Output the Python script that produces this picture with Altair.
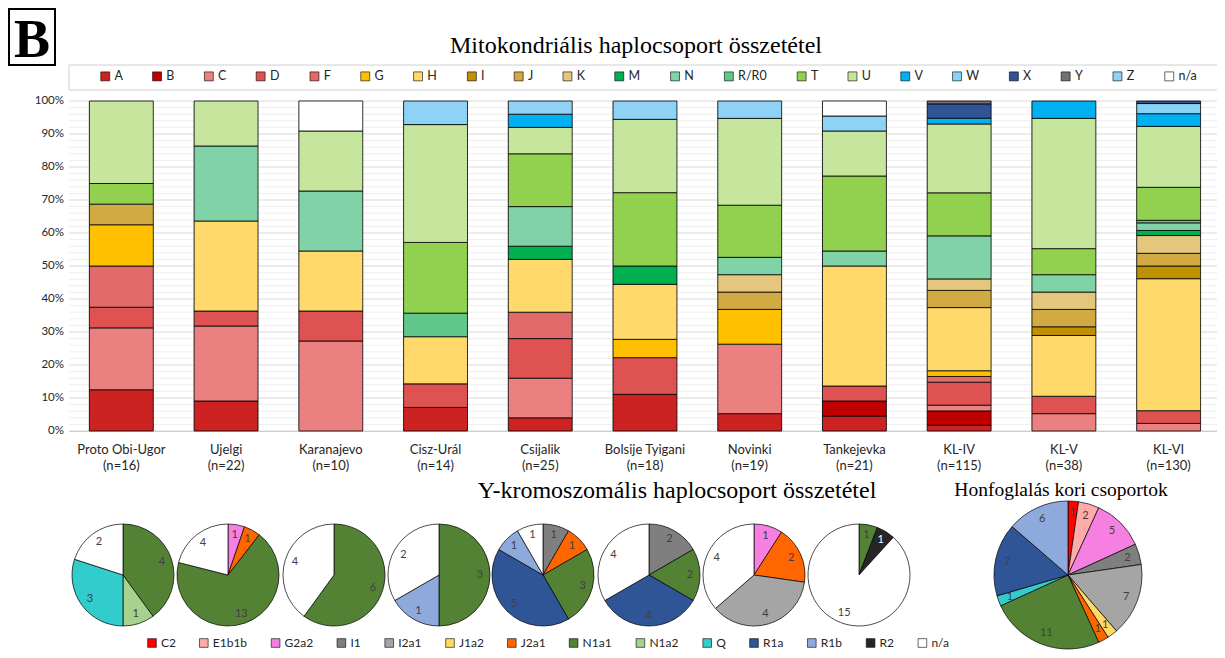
import altair as alt
import pandas as pd

# ---------------- text ----------------
panel_letter = "B"
title_mito = "Mitokondriális haplocsoport összetétel"
title_y = "Y-kromoszomális haplocsoport összetétel"
title_honf = "Honfoglalás kori csoportok"

# ---------------- mitochondrial data ----------------
mito_haplos = ["A", "B", "C", "D", "F", "G", "H", "I", "J", "K", "M", "N",
               "R/R0", "T", "U", "V", "W", "X", "Y", "Z", "n/a"]
mito_colors = ["#cc2222", "#c00000", "#ea8080", "#de5252", "#e26a6a", "#ffc000",
               "#ffd96b", "#bf9000", "#d2aa44", "#e4c77c", "#00b050", "#7fd3a6",
               "#62c78a", "#92d050", "#c6e59d", "#00b0f0", "#86d3f5", "#2f5597",
               "#767171", "#8ed3f6", "#ffffff"]

groups = ["Proto Obi-Ugor", "Ujelgi", "Karanajevo", "Cisz-Urál", "Csijalik",
          "Bolsije Tyigani", "Novinki", "Tankejevka", "KL-IV", "KL-V", "KL-VI"]
group_n = [16, 22, 10, 14, 25, 18, 19, 21, 115, 38, 130]

#                  A  B  C  D  F  G   H  I  J  K  M   N  R   T   U  V  W  X  Y  Z na
proto_obi_ugor  = [2, 0, 3, 1, 2, 2,  0, 0, 1, 0, 0,  0, 0,  1,  4, 0, 0, 0, 0, 0, 0]
ujelgi          = [2, 0, 5, 1, 0, 0,  6, 0, 0, 0, 0,  5, 0,  0,  3, 0, 0, 0, 0, 0, 0]
karanajevo      = [0, 0, 3, 1, 0, 0,  2, 0, 0, 0, 0,  2, 0,  0,  2, 0, 0, 0, 0, 0, 1]
cisz_ural       = [1, 0, 0, 1, 0, 0,  2, 0, 0, 0, 0,  0, 1,  3,  5, 0, 0, 0, 0, 1, 0]
csijalik        = [1, 0, 3, 3, 2, 0,  4, 0, 0, 0, 1,  3, 0,  4,  2, 1, 0, 0, 0, 1, 0]
bolsije_tyigani = [2, 0, 0, 2, 0, 1,  3, 0, 0, 0, 1,  0, 0,  4,  4, 0, 0, 0, 0, 1, 0]
novinki         = [1, 0, 4, 0, 0, 2,  0, 0, 1, 1, 0,  1, 0,  3,  5, 0, 0, 0, 0, 1, 0]
tankejevka      = [1, 1, 0, 1, 0, 0,  8, 0, 0, 0, 0,  1, 0,  5,  3, 0, 0, 0, 0, 1, 1]
kl_iv           = [2, 5, 2, 8, 2, 2, 22, 0, 6, 4, 0, 15, 0, 15, 24, 2, 0, 5, 1, 0, 0]
kl_v            = [0, 0, 2, 2, 0, 0,  7, 1, 2, 2, 0,  2, 0,  3, 15, 2, 0, 0, 0, 0, 0]
kl_vi           = [0, 0, 3, 5, 0, 0, 52, 5, 5, 7, 2,  3, 1, 13, 24, 5, 4, 1, 0, 0, 0]
group_counts = [proto_obi_ugor, ujelgi, karanajevo, cisz_ural, csijalik,
                bolsije_tyigani, novinki, tankejevka, kl_iv, kl_v, kl_vi]

y_ticks = [0, 0.1, 0.2, 0.3, 0.4, 0.5, 0.6, 0.7, 0.8, 0.9, 1.0]

# ---------------- Y-chromosome data ----------------
y_haplos = ["C2", "E1b1b", "G2a2", "I1", "I2a1", "J1a2", "J2a1", "N1a1", "N1a2",
            "Q", "R1a", "R1b", "R2", "n/a"]
y_colors = ["#ff0000", "#ffabab", "#f67fe2", "#7f7f7f", "#a5a5a5", "#ffd966",
            "#ff6600", "#548235", "#a9d18e", "#33cccc", "#2f5597", "#8eaadc",
            "#262626", "#ffffff"]

pie1_haps = ["N1a1", "N1a2", "Q", "n/a"]
pie1_counts = [4, 1, 3, 2]
pie2_haps = ["G2a2", "J2a1", "N1a1", "n/a"]
pie2_counts = [1, 1, 13, 4]
pie3_haps = ["N1a1", "n/a"]
pie3_counts = [6, 4]
pie4_haps = ["N1a1", "R1b", "n/a"]
pie4_counts = [3, 1, 2]
pie5_haps = ["I1", "J2a1", "N1a1", "R1a", "R1b", "n/a"]
pie5_counts = [1, 1, 3, 5, 1, 1]
pie6_haps = ["I1", "N1a1", "R1a", "n/a"]
pie6_counts = [2, 2, 4, 4]
pie7_haps = ["G2a2", "J2a1", "I2a1", "n/a"]
pie7_counts = [1, 2, 4, 4]
pie8_haps = ["N1a1", "R2", "n/a"]
pie8_counts = [1, 1, 15]
honf_haps = ["C2", "E1b1b", "G2a2", "I1", "I2a1", "J1a2", "J2a1", "N1a1", "Q", "R1a", "R1b"]
honf_counts = [1, 2, 5, 2, 7, 1, 1, 11, 1, 7, 6]

# ---------------- layout ----------------
W, H = 1209, 642
FONT = "Lato"
SERIF = "Liberation Serif"
X0, X1 = 61, 1213          # plot area left/right (chart coords)
Y0, Y1 = 423, 93           # 0% and 100%

rows = []
group_labels = []
for g, n, counts in zip(groups, group_n, group_counts):
    label = f"{g}|(n={n})"
    group_labels.append(label)
    for i, (h, c) in enumerate(zip(mito_haplos, counts)):
        if c > 0:
            rows.append({"glabel": label, "mhap": h, "count": c, "idx": i})
mito_df = pd.DataFrame(rows)

yscale_pos = alt.Scale(domain=[0, 1], range=[Y0, Y1])
xscale = alt.Scale(range=[X0, X1], paddingInner=0.39, paddingOuter=0.195)
x_axis = alt.Axis(title=None, labelExpr="split(datum.label, '|')", labelAngle=0,
                  ticks=False, domainColor="#bfbfbf", domainWidth=1.2, grid=False,
                  offset=-(H - Y0), labelPadding=12, labelFont=FONT,
                  labelFontSize=13, labelLineHeight=16, labelColor="#262626")

# minor and major horizontal gridlines
minor_vals = [i / 50 for i in range(1, 50) if i % 5 != 0]
minor = alt.Chart(pd.DataFrame({"v": minor_vals})).mark_rule(
    color="#eeeeee", strokeWidth=1).encode(
    x=alt.value(X0), x2=alt.value(X1),
    y=alt.Y("v:Q", scale=yscale_pos, axis=None))
major = alt.Chart(pd.DataFrame({"v": y_ticks})).mark_rule(
    color="#d9d9d9", strokeWidth=1).encode(
    x=alt.value(X0), x2=alt.value(X1),
    y=alt.Y("v:Q", scale=yscale_pos, axis=None))
ylabels = alt.Chart(pd.DataFrame({"v": y_ticks})).transform_calculate(
    lab="format(datum.v, '.0%')").mark_text(
    align="right", baseline="middle", font=FONT, fontSize=11.5, color="#262626").encode(
    x=alt.value(X0 - 5), y=alt.Y("v:Q", scale=yscale_pos, axis=None), text="lab:N")

# vertical separators at band edges
seps = alt.Chart(pd.DataFrame({"glabel": group_labels})).mark_rule(
    color="#d9d9d9", strokeWidth=1.5).encode(
    x=alt.X("glabel:N", sort=group_labels, scale=xscale, axis=x_axis, bandPosition=0),
    y=alt.value(Y1), y2=alt.value(Y0))
sep_end = alt.Chart(pd.DataFrame({"k": [0]})).mark_rule(
    color="#d9d9d9", strokeWidth=1.5).encode(
    x=alt.value(X1), y=alt.value(Y1), y2=alt.value(Y0))

bars = alt.Chart(mito_df).mark_bar(stroke="black", strokeWidth=0.8).encode(
    x=alt.X("glabel:N", sort=group_labels, scale=xscale, axis=x_axis),
    y=alt.Y("count:Q", stack="normalize", scale=yscale_pos, axis=None),
    color=alt.Color("mhap:N", scale=alt.Scale(domain=mito_haplos, range=mito_colors),
                    legend=alt.Legend(title=None, orient="none", legendX=91, legendY=62,
                                      direction="horizontal", columns=21, padding=0,
                                      symbolType="square", symbolSize=80,
                                      symbolStrokeColor="black", symbolStrokeWidth=0.6,
                                      labelFont=FONT, labelFontSize=12.5, labelColor="#262626",
                                      columnPadding=27.8, labelOffset=3)),
    order=alt.Order("idx:Q", sort="ascending"),
)

one = pd.DataFrame({"k": [0]})
legend_frame = alt.Chart(one).mark_rect(fillOpacity=0, stroke="#d0d0d0", strokeWidth=1).encode(
    x=alt.value(X0), x2=alt.value(1215), y=alt.value(57), y2=alt.value(82))

b_box = alt.Chart(one).mark_rect(fill="white", stroke="black", strokeWidth=2).encode(
    x=alt.value(1), x2=alt.value(47), y=alt.value(1), y2=alt.value(57))
b_text = alt.Chart(pd.DataFrame({"t": [panel_letter]})).mark_text(
    font=SERIF, fontSize=54, fontWeight="bold", align="center", baseline="alphabetic",
    color="black").encode(x=alt.value(24), y=alt.value(49), text="t:N")


def title_layer(t, x, y, size):
    return alt.Chart(pd.DataFrame({"t": [t]})).mark_text(
        font=SERIF, fontSize=size, align="center", baseline="alphabetic",
        color="black").encode(x=alt.value(x), y=alt.value(y), text="t:N")


t1 = title_layer(title_mito, 628, 45, 24)
t2 = title_layer(title_y, 669, 490, 24)
t3 = title_layer(title_honf, 1053, 488, 19.5)

yscale = alt.Scale(domain=y_haplos, range=y_colors)


def pie_layers(haps, counts, cx, cy, r, rl, legend=None):
    df = pd.DataFrame({"yhap": haps, "count": counts, "ord": list(range(len(haps)))})
    base = alt.Chart(df).transform_joinaggregate(total="sum(count)").transform_calculate(
        frac="datum.count / datum.total")
    theta = alt.Theta("frac:Q", stack=True, scale=alt.Scale(domain=[0, 1]))
    if legend is None:
        fill = alt.Fill("yhap:N", scale=yscale, legend=None)
    else:
        fill = alt.Fill("yhap:N", scale=yscale, legend=legend)
    arc = base.mark_arc(outerRadius=r, stroke="black", strokeWidth=0.7).encode(
        x=alt.value(cx), y=alt.value(cy), theta=theta, fill=fill,
        order=alt.Order("ord:Q", sort="ascending"))
    txt = base.mark_text(radius=rl, font=FONT, fontSize=11, align="center",
                         baseline="middle").encode(
        x=alt.value(cx), y=alt.value(cy), theta=theta, text="count:Q",
        detail="yhap:N", order=alt.Order("ord:Q", sort="ascending"),
        color=alt.condition("datum.yhap == 'R2'", alt.value("white"), alt.value("#404040")))
    return [arc, txt]


y_legend = alt.Legend(title=None, orient="none", legendX=138, legendY=629,
                      direction="horizontal", columns=14, padding=0,
                      symbolType="square", symbolSize=75, symbolStrokeColor="black",
                      symbolStrokeWidth=0.6, labelFont=FONT, labelFontSize=12,
                      labelColor="#262626", columnPadding=21.8, labelOffset=3)

pies = [(pie1_haps, pie1_counts), (pie2_haps, pie2_counts), (pie3_haps, pie3_counts),
        (pie4_haps, pie4_counts), (pie5_haps, pie5_counts), (pie6_haps, pie6_counts),
        (pie7_haps, pie7_counts), (pie8_haps, pie8_counts)]
pie_cx = [115, 220, 326, 431, 535, 641, 746, 851]
pie_layers_all = []
for k, ((hp, ct), cx) in enumerate(zip(pies, pie_cx)):
    pie_layers_all += pie_layers(hp, ct, cx, 567, 51, 41, y_legend if k == 0 else None)
pie_layers_all += pie_layers(honf_haps, honf_counts, 1060, 567, 74, 62)

chart = alt.layer(minor, major, seps, sep_end, ylabels, bars, legend_frame, b_box, b_text,
                  t1, t2, t3, *pie_layers_all).properties(
    width=W, height=H, autosize=alt.AutoSizeParams(type="none"), padding=0,
    background="white").configure_view(strokeWidth=0)

chart.save("out.html", embed_options={"renderer": "svg", "actions": False})
